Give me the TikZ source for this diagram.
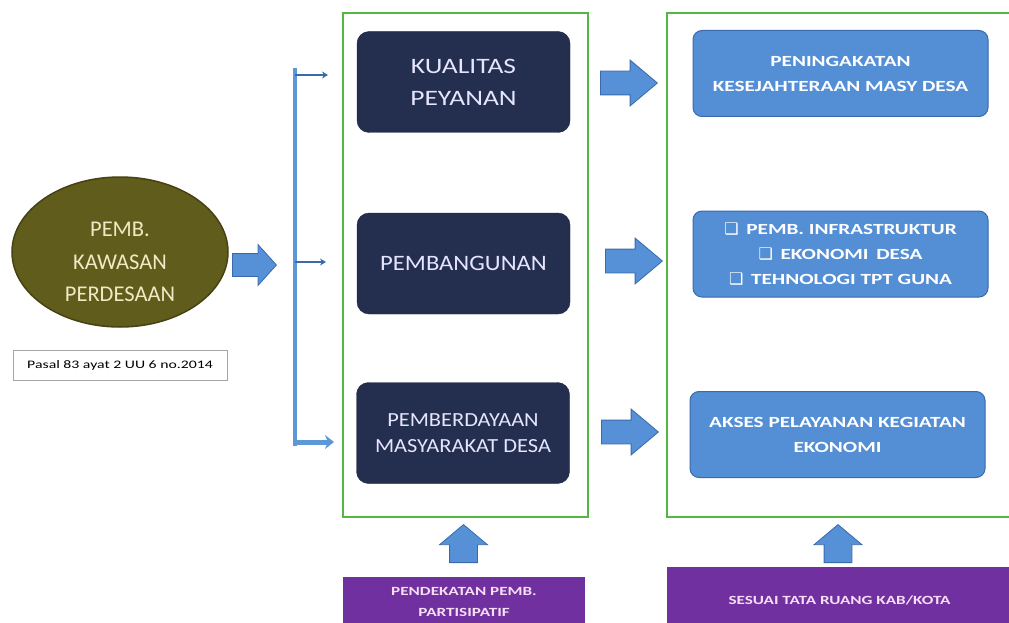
\documentclass[tikz,border=0pt]{standalone}
\usepackage{fontspec}
\setmainfont{Carlito}
\newfontfamily\dejavu{DejaVu Sans}
\newfontfamily\wideA{Carlito}[FakeStretch=1.25]
\newfontfamily\wideB{Carlito}[FakeStretch=1.12]
\newfontfamily\wideC{Carlito}[FakeStretch=1.37]
\usetikzlibrary{shapes.geometric,shapes.arrows,arrows.meta}
\definecolor{navy}{RGB}{36,46,78}
\definecolor{lblue}{RGB}{84,143,214}
\definecolor{lbluedk}{RGB}{58,106,170}
\definecolor{grn}{RGB}{84,184,64}
\definecolor{purp}{RGB}{112,48,160}
\definecolor{olive}{RGB}{96,92,28}
\definecolor{olivedk}{RGB}{70,66,20}
\definecolor{arrblue}{RGB}{86,145,216}
\definecolor{linblue}{RGB}{92,152,214}
\definecolor{cream}{RGB}{240,234,196}
\definecolor{pinkw}{RGB}{246,222,244}
\newcommand{\chk}{{\dejavu\mdseries\fontsize{16}{16}\selectfont ❑}}
\tikzset{
  navybox/.style={fill=navy, draw=navy!80!black, rounded corners=12pt, minimum width=213pt, minimum height=101pt, text=white!90!blue, align=center},
  bluebox/.style={fill=lblue, draw=lbluedk, line width=1pt, rounded corners=9pt, minimum width=295pt, minimum height=86pt, text=white, align=center, font=\wideC\bfseries\fontsize{15.5}{25}\selectfont},
  greenframe/.style={draw=grn, line width=2.2pt},
  purpbox/.style={fill=purp, text=pinkw, align=center, font=\wideC\bfseries\fontsize{12.5}{21}\selectfont},
  blockarrow/.style={single arrow, fill=arrblue, draw=lbluedk, line width=0.8pt, inner xsep=0pt, anchor=tail},
  bar/.style={draw=linblue, line width=4pt},
  tick/.style={draw=lbluedk, line width=2pt, -{Stealth[length=6pt,width=7pt]}},
}
\begin{document}
\begin{tikzpicture}[x=1pt,y=-1pt]
\useasboundingbox (0,0) rectangle (1009,623);
\fill[white] (0,0) rectangle (1009,623);
% left ellipse
\node[ellipse, fill=olive, draw=olivedk, line width=1.5pt, minimum width=216pt, minimum height=150pt] (kaw) at (120,252) {};
\node[text=cream, align=center, font=\fontsize{22.5}{32.5}\selectfont] (kawt) at (120,262) {PEMB.\\KAWASAN\\PERDESAAN};
\node[draw=gray!70, line width=0.8pt, minimum width=214pt, minimum height=30pt, font=\wideC\fontsize{11.5}{12}\selectfont] (pasal) at (120,365) {Pasal 83 ayat 2 UU 6 no.2014};
\node[blockarrow, minimum height=44pt, inner ysep=11pt, single arrow head extend=9pt, single arrow tip angle=96] (a0) at (232,265) {};
% bracket line
\coordinate (btop) at (295,68);
\coordinate (bbot) at (295,446);
\draw[bar] (btop) -- (bbot);
\coordinate (t1) at (295,75);
\coordinate (t2) at (295,262);
\coordinate (t3) at (295,442);
\coordinate (e1) at (328,75);
\coordinate (e2) at (326,262);
\coordinate (e3) at (334,442);
% green frames
\node[greenframe, minimum width=245pt, minimum height=504pt] (g1) at (465.5,265) {};
\node[greenframe, minimum width=345pt, minimum height=504pt] (g2) at (839.5,265) {};
% navy boxes
\node[navybox, font=\wideA\fontsize{22}{32}\selectfont] (n1) at (463.5,82) {KUALITAS\\PEYANAN};
\node[navybox, font=\wideB\fontsize{22}{32}\selectfont] (n2) at (463.5,263.5) {PEMBANGUNAN};
\node[navybox, font=\wideB\fontsize{20}{26}\selectfont] (n3) at (463,433) {PEMBERDAYAAN\\MASYARAKAT DESA};
\draw[tick] (t1) -- (e1);
\draw[tick] (t2) -- (e2);
\draw[draw=linblue, line width=5pt, -{Stealth[length=9pt,width=14pt]}] (t3) -- (e3);
% column arrows
\node[blockarrow, minimum height=57pt, inner ysep=11.5pt, single arrow head extend=11pt, single arrow tip angle=80] (c1) at (600,83) {};
\node[blockarrow, minimum height=57pt, inner ysep=11.5pt, single arrow head extend=11pt, single arrow tip angle=80] (c2) at (605,261) {};
\node[blockarrow, minimum height=57pt, inner ysep=11.5pt, single arrow head extend=11pt, single arrow tip angle=80] (c3) at (601,432) {};
% blue boxes
\node[bluebox] (b1) at (840.5,73.5) {PENINGAKATAN\\KESEJAHTERAAN MASY DESA};
\node[bluebox] (b2) at (840.5,254) {\chk\enspace PEMB. INFRASTRUKTUR\\\chk\enspace EKONOMI\enspace DESA\\\chk\enspace TEHNOLOGI TPT GUNA};
\node[bluebox] (b3) at (837.5,434.5) {AKSES PELAYANAN KEGIATAN\\EKONOMI};
% up arrows
\node[blockarrow, rotate=90, minimum height=38pt, inner ysep=13.5pt, single arrow head extend=10pt, single arrow tip angle=100] (u1) at (463.5,563) {};
\node[blockarrow, rotate=90, minimum height=38pt, inner ysep=13.5pt, single arrow head extend=10pt, single arrow tip angle=100] (u2) at (838,563) {};
% purple boxes
\node[purpbox, minimum width=242pt, minimum height=50pt] (p1) at (464,602) {PENDEKATAN PEMB.\\PARTISIPATIF};
\node[purpbox, minimum width=345pt, minimum height=66pt] (p2) at (839.5,600) {SESUAI TATA RUANG KAB/KOTA};
\end{tikzpicture}
\end{document}
